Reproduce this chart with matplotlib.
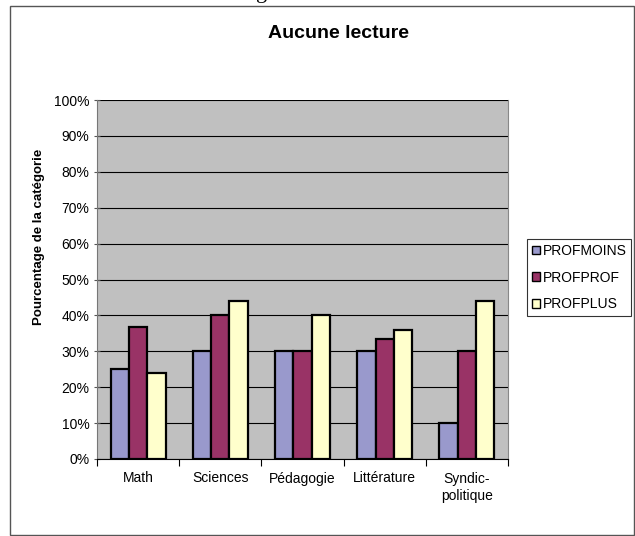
import matplotlib.pyplot as plt
import numpy as np
from matplotlib.patches import Rectangle

plt.rcParams['font.family'] = ['Liberation Sans', 'DejaVu Sans']

categories = ['Math', 'Sciences', 'Pédagogie', 'Littérature', 'Syndic-\npolitique']
profmoins = [25, 30, 30, 30, 10]
profprof = [36.7, 40, 30, 33.3, 30]
profplus = [24, 44, 40, 36, 44]
series = ['PROFMOINS', 'PROFPROF', 'PROFPLUS']
colors = ['#9999CC', '#993366', '#FFFFCC']

fig = plt.figure(figsize=(6.35, 5.36), dpi=100)
fig.patch.set_facecolor('white')

# outer chart frame
fig.add_artist(Rectangle((10 / 635, 1 / 536), 624 / 635, 529 / 536,
                         transform=fig.transFigure, fill=False,
                         edgecolor='#555555', linewidth=1.0))
# descender of a text cut off above the chart
fig.text(262 / 635, 1.012, 'g', ha='center', va='center',
         family='Liberation Serif', fontsize=16)

ax = fig.add_axes([97 / 635, 77 / 536, 411 / 635, 359 / 536])
ax.set_facecolor('#C0C0C0')

x = np.arange(len(categories))
w = 0.223
for i, (vals, lab, col) in enumerate(zip([profmoins, profprof, profplus], series, colors)):
    ax.bar(x + (i - 1) * w, vals, w, color=col, edgecolor='black',
           linewidth=1.6, label=lab, zorder=3)

ax.set_xlim(-0.5, len(categories) - 0.5)
ax.set_ylim(0, 100)
ax.set_yticks(np.arange(0, 101, 10))
ax.set_yticklabels([f'{v}%' for v in range(0, 101, 10)], fontsize=10)
ax.yaxis.grid(True, color='black', linewidth=0.8, zorder=0)
ax.set_axisbelow(True)

ax.set_xticks(np.arange(-0.5, len(categories), 1.0))
ax.set_xticklabels([])
ax.set_xticks(x, minor=True)
ax.set_xticklabels(categories, minor=True, fontsize=10, linespacing=1.35)
ax.tick_params(axis='x', which='minor', length=0, pad=9)
ax.tick_params(axis='x', which='major', length=5, direction='out', color='black')
ax.tick_params(axis='y', length=5, direction='inout', color='#555555', pad=3)

ax.spines['top'].set_visible(False)
ax.spines['right'].set_color('#888888')
ax.spines['left'].set_color('#777777')
ax.spines['bottom'].set_color('black')

ax.set_ylabel('Pourcentage de la catégorie', fontsize=9.5, fontweight='bold')
ax.yaxis.set_label_coords(-0.126, 0.618)

fig.text(338 / 635, 1 - 33 / 536, 'Aucune lecture', ha='center', va='center',
         fontsize=14, fontweight='bold')

leg = fig.legend(loc='upper left', bbox_to_anchor=(527 / 635, 1 - 239 / 536),
                 fontsize=10, frameon=True, fancybox=False, edgecolor='black',
                 handlelength=0.58, handleheight=0.58, handletextpad=0.2,
                 borderpad=0.35, labelspacing=0.92, borderaxespad=0)
leg.get_frame().set_linewidth(0.8)
for h in leg.legend_handles:
    h.set_linewidth(1.0)

fig.savefig('out.png', dpi=100)
